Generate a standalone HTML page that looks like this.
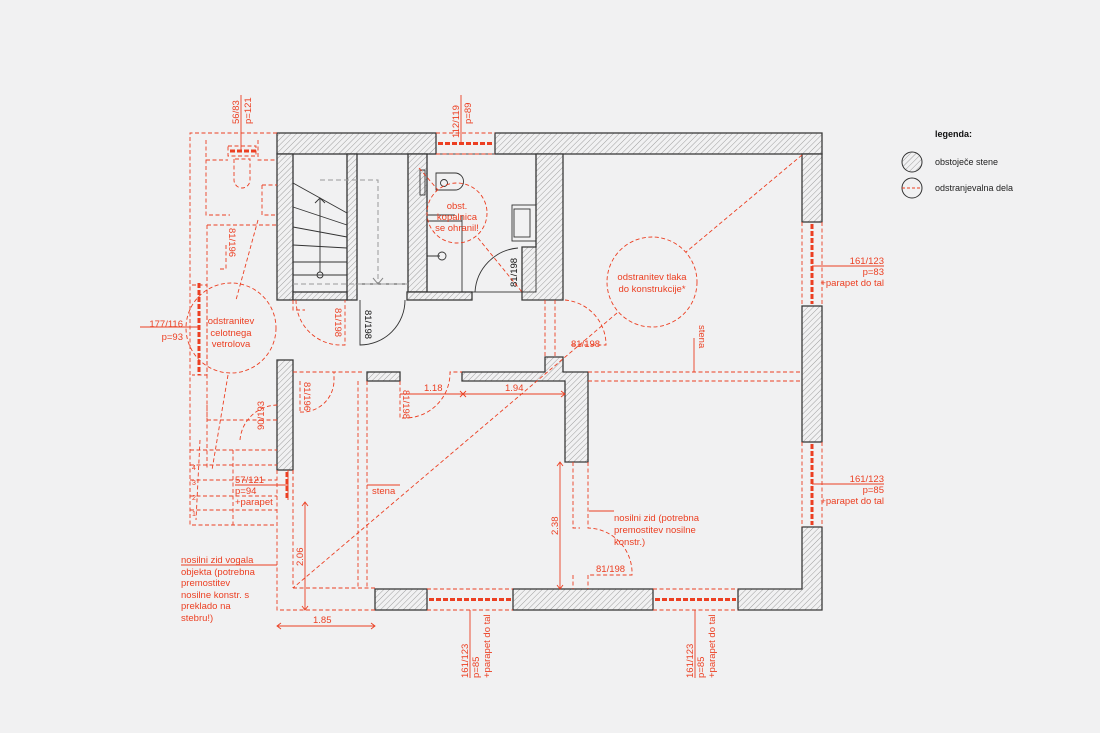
<!DOCTYPE html>
<html><head><meta charset="utf-8"><style>
html,body{margin:0;padding:0;background:#f1f1f2;}
svg{display:block;}
text{font-family:"Liberation Sans",sans-serif;}
.r{fill:#ec3f22;font-size:9.5px;}
.k{fill:#111;font-size:9.5px;}
</style></head><body>
<svg width="1100" height="733" viewBox="0 0 1100 733" xmlns="http://www.w3.org/2000/svg">
<defs>
<pattern id="h" width="4" height="4" patternUnits="userSpaceOnUse" patternTransform="rotate(45)">
<rect width="4" height="4" fill="#f1f1f2"/><line x1="0" y1="0" x2="0" y2="4" stroke="#8a8a8a" stroke-width="0.8"/>
</pattern>
</defs>
<rect width="1100" height="733" fill="#f1f1f2"/>

<!-- WALLS -->
<g fill="url(#h)" stroke="#3a3a3a" stroke-width="1.3">
<rect x="277" y="133" width="159" height="21"/>
<rect x="495" y="133" width="327" height="21"/>
<rect x="277" y="154" width="16" height="146"/>
<rect x="347" y="154" width="10" height="146"/>
<rect x="408" y="154" width="19" height="138"/>
<rect x="293" y="292" width="54" height="8" fill="url(#h)"/>
<rect x="407" y="292" width="65" height="8"/>
<path d="M536 154 H563 V300 H522 V247 H536 Z"/>
<rect x="802" y="154" width="20" height="68"/>
<rect x="802" y="306" width="20" height="136"/>
<path d="M802 527 H822 V610 H738 V589 H802 Z"/>
<rect x="513" y="589" width="140" height="21"/>
<rect x="375" y="589" width="52" height="21"/>
<rect x="277" y="360" width="16" height="110"/>
<rect x="367" y="372" width="33" height="9"/>
<path d="M462 372 H545 V357 H563 V372 H588 V462 H565 V381 H462 Z"/>
</g>

<!-- legend -->
<text x="935" y="137" style="font-size:9px;font-weight:bold" fill="#111">legenda:</text>
<circle cx="912" cy="162" r="10" fill="url(#h)" stroke="#333" stroke-width="1"/>
<text x="935" y="165" style="font-size:9px" fill="#222">obstoječe stene</text>
<circle cx="912" cy="188" r="10" fill="none" stroke="#333" stroke-width="1"/>
<line x1="902" y1="188" x2="922" y2="188" stroke="#ec3f22" stroke-dasharray="3 2"/>
<text x="935" y="191" style="font-size:9px" fill="#222">odstranjevalna dela</text>

<!-- black interior: stairs, bath -->
<g stroke="#333" stroke-width="0.9" fill="none">
<rect x="293" y="154" width="54" height="138"/>
<rect x="357" y="154" width="51" height="130"/>
<path d="M293 183 L347 213 M293 207 L347 225 M293 227 L347 237 M293 245 L347 248 M293 262 H347 M293 275 H347"/>
<line x1="320" y1="198" x2="320" y2="272"/><circle cx="320" cy="275" r="3"/>
<path d="M315 203 L320 198 L325 203"/>
<path d="M360 300 V345 A45 45 0 0 0 405 300"/>
<rect x="427" y="154" width="109" height="138"/>
<path d="M475 292 A47 47 0 0 1 518 248"/>
<path d="M436 173 H455 A8 8 0 0 1 455 190 H436 Z"/><circle cx="444" cy="183" r="3.5"/>
<rect x="420" y="170" width="5" height="25"/>
<rect x="512" y="205" width="24" height="36"/><rect x="514" y="209" width="16" height="28"/>
<path d="M427 215 H455 M427 221 H462 M462 215 V292 M427 256 H440"/><circle cx="442" cy="256" r="4"/>
</g>
<g stroke="#999" stroke-width="1" fill="none" stroke-dasharray="5 3">
<path d="M320 180 H378 V283"/><path d="M293 284 H408"/>
</g>
<path d="M373 278 L378 284 L383 278" stroke="#888" fill="none"/>
<text class="k" transform="translate(365,310) rotate(90)">81/198</text>
<text class="k" transform="translate(517,287) rotate(-90)">81/198</text>

<!-- RED -->
<g stroke="#ec3f22" fill="none" stroke-width="0.9" stroke-dasharray="4 2.5">
<!-- vetrolov outline -->
<path d="M277 133 H190 V525 H277"/>
<path d="M206 140 V215 H230 M206 160 H228 M258 140 V160 H277"/>
<path d="M207 225 V420 H262 M207 225 H277 M207 405 V470"/>
<path d="M228 146 H256 V156 H228 Z"/>
<path d="M234 159 V180 A8 8 0 0 0 250 180 V159 Z"/>
<path d="M262 185 H277 M262 185 V215 H277"/>
<path d="M192 285 H207 V375 H192"/>
<path d="M226 245 V269 H220" />
<path d="M258 220 L236 300 M228 375 L212 470 M200 440 L196 520"/>
<path d="M190 450 H277 M190 465 H277 M190 480 H277 M190 496 H277 M190 510 H277 M233 450 V525"/>
<path d="M240 440 A38 38 0 0 1 278 405 M277 420 H262"/>
<!-- circles -->
<circle cx="231" cy="328" r="45"/>
<circle cx="457" cy="213" r="30"/>
<circle cx="652" cy="282" r="45"/>
<!-- diagonals -->
<path d="M802 155 L686 252 M617 313 L293 588"/>
<path d="M419 168 L438 190 M478 238 L522 292"/>
<!-- corridor -->
<path d="M545 300 V357 M555 300 V357 M565 300 A45 45 0 0 1 606 345 H570"/>
<path d="M293 300 V310 H305 M296 300 A45 45 0 0 0 342 345 H345 V300"/>
<path d="M293 372 H362 M588 372 H802 M588 381 H802"/>
<path d="M300 381 V412 M300 412 A32 32 0 0 0 334 381 V372 M400 381 V418 H405 A45 45 0 0 0 450 372 H462"/>
<path d="M358 381 V588 M367 381 V588 M293 588 H375 M277 470 V610 H375 M293 470 V588"/>
<path d="M573 462 V528 H580 M588 462 V528 A45 45 0 0 1 632 575 H590 M573 575 V589 M588 575 V589"/>
<!-- windows outlines -->
<path d="M436 133 H495 M436 154 H495"/>
<path d="M802 222 V306 M822 222 V306 M802 442 V527 M822 442 V527"/>
<path d="M427 589 H513 M427 610 H513 M653 589 H738 M653 610 H738"/>
<path d="M288 470 V500 M293 470 V500"/>
</g>
<!-- thick window dashes -->
<g stroke="#ec3f22" stroke-width="3" stroke-dasharray="5 2" fill="none">
<path d="M438 143.5 H493"/><path d="M812 224 V304"/><path d="M812 444 V525"/>
<path d="M429 599.5 H511"/><path d="M655 599.5 H736"/><path d="M230 151 H256"/>
<path d="M199 283 V375"/><path d="M287 472 V500"/>
</g>
<!-- leaders & dims -->
<g stroke="#ec3f22" stroke-width="0.9" fill="none">
<path d="M241 150 V95 M461 143 V95 M812 266 H884 M812 484 H884 M470 610 V678 M695 610 V678"/>
<path d="M140 327 H199 M235 485 H288 M181 565 H277 M589 511 H614 M694 338 V372 M367 485 H400"/>
<path d="M305 502 V610 M302 506 L305 502 L308 506 M302 606 L305 610 L308 606"/>
<path d="M277 626 H375 M281 623 L277 626 L281 629 M371 623 L375 626 L371 629"/>
<path d="M400 394 H565 M561 391 L565 394 L561 397 M460 391 L466 397 M466 391 L460 397"/>
<path d="M560 462 V589 M557 466 L560 462 L563 466 M557 585 L560 589 L563 585"/>
</g>

<!-- red text -->
<g class="r">
<text x="231" y="324" text-anchor="middle">odstranitev</text>
<text x="231" y="336" text-anchor="middle">celotnega</text>
<text x="231" y="347" text-anchor="middle">vetrolova</text>
<text x="457" y="209" text-anchor="middle">obst.</text>
<text x="457" y="220" text-anchor="middle">kopalnica</text>
<text x="457" y="231" text-anchor="middle">se ohranil!</text>
<text x="652" y="280" text-anchor="middle">odstranitev tlaka</text>
<text x="652" y="292" text-anchor="middle">do konstrukcije*</text>
<text x="183" y="327" text-anchor="end">177/116</text>
<text x="183" y="340" text-anchor="end">p=93</text>
<text transform="translate(239,124) rotate(-90)">56/83</text>
<text transform="translate(251,124) rotate(-90)">p=121</text>
<text transform="translate(459,138) rotate(-90)">112/119</text>
<text transform="translate(471,124) rotate(-90)">p=89</text>
<text x="884" y="264" text-anchor="end">161/123</text>
<text x="884" y="275" text-anchor="end">p=83</text>
<text x="884" y="286" text-anchor="end">+parapet do tal</text>
<text x="884" y="482" text-anchor="end">161/123</text>
<text x="884" y="493" text-anchor="end">p=85</text>
<text x="884" y="504" text-anchor="end">+parapet do tal</text>
<text transform="translate(468,678) rotate(-90)">161/123</text>
<text transform="translate(479,678) rotate(-90)">p=85</text>
<text transform="translate(490,678) rotate(-90)">+parapet do tal</text>
<text transform="translate(693,678) rotate(-90)">161/123</text>
<text transform="translate(704,678) rotate(-90)">p=85</text>
<text transform="translate(715,678) rotate(-90)">+parapet do tal</text>
<text x="235" y="483">57/121</text>
<text x="235" y="494">p=94</text>
<text x="235" y="505">+parapet</text>
<text x="181" y="563">nosilni zid vogala</text>
<text x="181" y="575">objekta (potrebna</text>
<text x="181" y="586">premostitev</text>
<text x="181" y="598">nosilne konstr. s</text>
<text x="181" y="609">preklado na</text>
<text x="181" y="621">stebru!)</text>
<text x="614" y="521">nosilni zid (potrebna</text>
<text x="614" y="533">premostitev nosilne</text>
<text x="614" y="545">konstr.)</text>
<text x="372" y="494">stena</text>
<text transform="translate(699,325) rotate(90)">stena</text>
<text x="313" y="623">1.85</text>
<text x="424" y="391">1.18</text>
<text x="505" y="391">1.94</text>
<text transform="translate(303,566) rotate(-90)">2.06</text>
<text transform="translate(558,535) rotate(-90)">2.38</text>
<text x="571" y="347">81/198</text>
<text x="596" y="572">81/198</text>
<text transform="translate(229,228) rotate(90)">81/196</text>
<text transform="translate(335,308) rotate(90)">81/198</text>
<text transform="translate(304,382) rotate(90)">81/196</text>
<text transform="translate(403,390) rotate(90)">81/198</text>
<text transform="translate(264,430) rotate(-90)">90/193</text>
<text x="192" y="470" style="font-size:7px">4</text>
<text x="192" y="485" style="font-size:7px">3</text>
<text x="192" y="500" style="font-size:7px">2</text>
<text x="192" y="516" style="font-size:7px">1</text>
</g>
</svg>
</body></html>
